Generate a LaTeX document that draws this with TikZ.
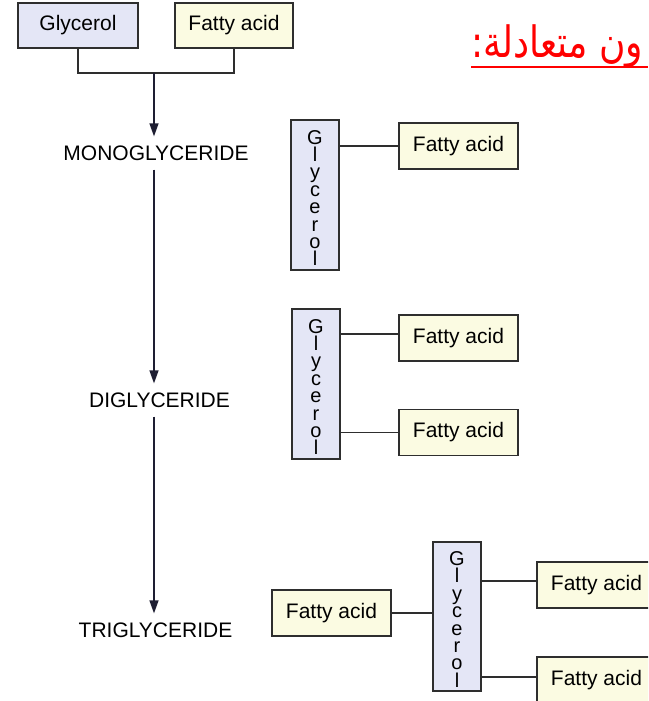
\documentclass[tikz,border=0pt]{standalone}
\usepackage{fontspec}
\setmainfont{Liberation Sans}
\newfontfamily\arabicfont[Script=Arabic]{DejaVu Sans}
\TeXXeTstate=1
\usetikzlibrary{arrows.meta}
\definecolor{glyfill}{HTML}{E4E6F6}
\definecolor{fafill}{HTML}{FBFBE2}
\definecolor{edge}{HTML}{2E2E2E}
\definecolor{arrcol}{HTML}{1E1E32}
\definecolor{arred}{HTML}{FF0000}
\tikzset{
  box/.style={draw=edge, line width=1.2pt, inner sep=0pt, font=\fontsize{21}{24}\selectfont},
  glybox/.style={box, fill=glyfill},
  fabox/.style={box, fill=fafill, minimum width=119pt, minimum height=46pt},
  vgly/.style={box, fill=glyfill, minimum width=48pt, minimum height=150pt},
  letters/.style={inner sep=0pt, align=center, font=\fontsize{20}{17.4}\selectfont},
  stage/.style={inner xsep=2pt, inner ysep=9pt, font=\fontsize{21}{24}\selectfont},
  link/.style={draw=edge, line width=1.2pt},
  flow/.style={draw=arrcol, line width=1.3pt, -{Triangle[length=13pt,width=9pt]}}
}
\begin{document}
\begin{tikzpicture}[x=1pt,y=-1pt]
\useasboundingbox (0,0) rectangle (648,701);
\clip (0,0) rectangle (648,701);
% top
\node[glybox, minimum width=120pt, minimum height=45pt] (g0) at (78,25.5) {Glycerol};
\node[fabox, minimum width=118pt, minimum height=45pt] (f0) at (234,25.5) {Fatty acid};
\coordinate (j) at (154,73);
\draw[link] (g0.south) |- (j) -| (f0.south);
% stages
\node[stage] (mono) at (156,153) {MONOGLYCERIDE};
\node[stage] (di) at (159.5,400) {DIGLYCERIDE};
\node[stage] (tri) at (155.5,630) {TRIGLYCERIDE};
\draw[flow] (j) -- (j |- mono.north);
\draw[flow] (j |- mono.south) -- (j |- di.north);
\draw[flow] (j |- di.south) -- (j |- tri.north);
% monoglyceride
\node[vgly] (g1) at (315,195) {};
\node[letters] (t1) at ([yshift=-3pt]g1.center) {G\\l\\y\\c\\e\\r\\o\\l};
\node[fabox] (f1) at (458.5,146) {Fatty acid};
\draw[link] (g1.east |- f1.west) -- (f1.west);
% diglyceride
\node[vgly] (g2) at (316,384) {};
\node[letters] (t2) at ([yshift=-3pt]g2.center) {G\\l\\y\\c\\e\\r\\o\\l};
\node[fabox] (f2a) at (458.5,338) {Fatty acid};
\node[fabox] (f2b) at (458.5,432.5) {Fatty acid};
\draw[link] ([yshift=4pt]g2.east |- f2a.west) -- ([yshift=4pt]f2a.west);
\draw[link] (g2.east |- f2b.west) -- (f2b.west);
% triglyceride
\node[vgly, minimum height=149pt] (g3) at (457,616.5) {};
\node[letters] (t3) at ([yshift=-3pt]g3.center) {G\\l\\y\\c\\e\\r\\o\\l};
\node[fabox] (f3l) at (331.5,613) {Fatty acid};
\node[fabox] (f3a) at (596.5,585) {Fatty acid};
\node[fabox] (f3b) at (596.5,680) {Fatty acid};
\draw[link] (f3l.east) -- (g3.west |- f3l.east);
\draw[link] ([yshift=4pt]g3.east |- f3a.west) -- ([yshift=4pt]f3a.west);
\draw[link] ([yshift=3pt]g3.east |- f3b.west) -- ([yshift=3pt]f3b.west);
% arabic heading
\node[anchor=base west, inner sep=0pt, text=arred, font=\fontsize{36}{40}\selectfont, yscale=1.2, transform shape] (ar) at (471,58) {\arabicfont\beginR ون متعادلة:\endR};
\coordinate (ulend) at (648,67);
\draw[arred, line width=2.5pt] (ar.south west |- ulend) -- (ulend);
\end{tikzpicture}
\end{document}
